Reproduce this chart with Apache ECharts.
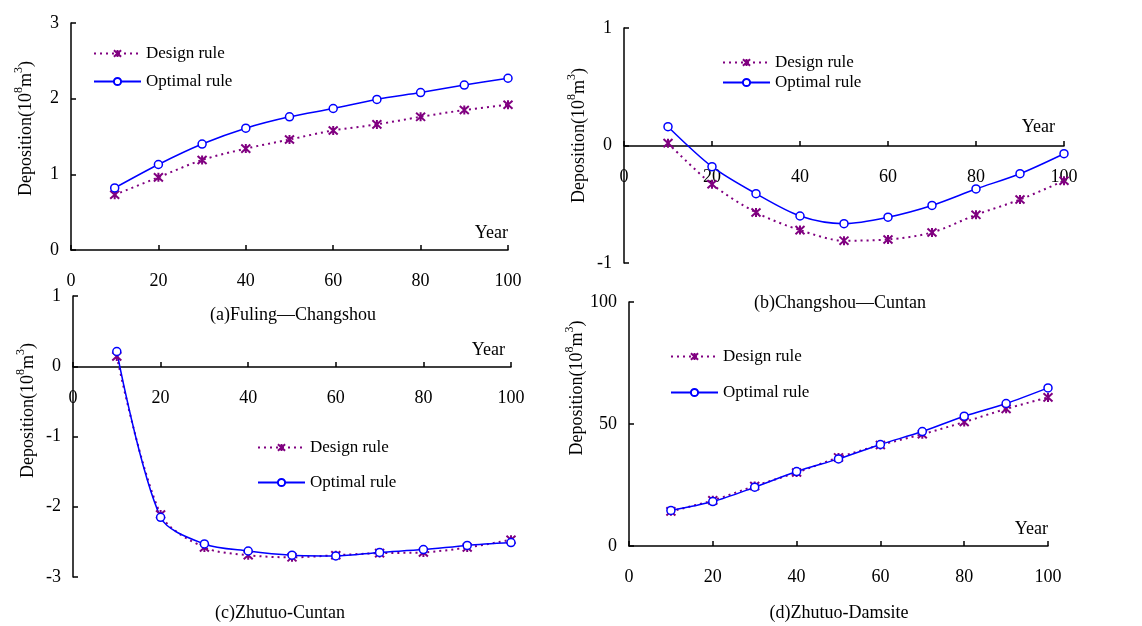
<!DOCTYPE html>
<html>
<head>
<meta charset="utf-8">
<script src="https://cdn.jsdelivr.net/npm/echarts@6/dist/echarts.min.js"></script>
<style>
  html, body { margin: 0; padding: 0; background: #fff; }
  #main { width: 1142px; height: 626px; }
</style>
</head>
<body>
<div id="main"></div>
<script>
// years on the x axis
var years = [10, 20, 30, 40, 50, 60, 70, 80, 90, 100];

// (a) Fuling—Changshou
var designA = [0.73, 0.96, 1.19, 1.34, 1.46, 1.58, 1.66, 1.76, 1.85, 1.92];
var optimalA = [0.82, 1.13, 1.40, 1.61, 1.76, 1.87, 1.99, 2.08, 2.18, 2.27];
// (b) Changshou—Cuntan
var designB = [0.02, -0.33, -0.57, -0.72, -0.81, -0.80, -0.74, -0.59, -0.46, -0.30];
var optimalB = [0.16, -0.18, -0.41, -0.60, -0.665, -0.61, -0.51, -0.37, -0.24, -0.07];
// (c) Zhutuo-Cuntan
var designC = [0.14, -2.11, -2.58, -2.69, -2.72, -2.69, -2.66, -2.65, -2.58, -2.47];
var optimalC = [0.21, -2.15, -2.53, -2.63, -2.69, -2.70, -2.65, -2.61, -2.55, -2.51];
// (d) Zhutuo-Damsite
var designD = [14.2, 18.7, 24.6, 30.1, 36.3, 41.4, 45.8, 50.8, 56.2, 60.9];
var optimalD = [14.6, 18.2, 24.1, 30.5, 35.7, 41.6, 46.9, 53.2, 58.4, 64.8];

var titles = ['(a)Fuling\u2014Changshou', '(b)Changshou\u2014Cuntan', '(c)Zhutuo-Cuntan', '(d)Zhutuo-Damsite'];

var FONT = 'Liberation Serif';
var PURPLE = '#800080';
var BLUE = '#0000ff';
var star = 'path://M0,-5L0,5M-4.5,-4.5L4.5,4.5M-4.5,4.5L4.5,-4.5';

function pairs(ys) {
  return years.map(function (x, i) { return [x, ys[i]]; });
}

var grids = [
  { left: 71, top: 23, width: 437, height: 227 },
  { left: 624, top: 28, width: 440, height: 235 },
  { left: 73, top: 296, width: 438, height: 281 },
  { left: 629, top: 302, width: 419, height: 244 }
];
var yRanges = [[0, 3, 1], [-1, 1, 1], [-3, 1, 1], [0, 100, 50]];
// x axis crosses at y = 0, lifted from the grid bottom
var xOffset = [0, -117, -210, 0];
var yearPad = [[0, 0, 8, 0], [0, 9, 10, 0], [0, 6, 8, 0], [0, 0, 8, 0]];
var namePad = [16, 20, 52, 72];
var designs = [designA, designB, designC, designD];
var optimals = [optimalA, optimalB, optimalC, optimalD];

var axisTick = { inside: true, length: 5, lineStyle: { color: '#000', width: 1.5 } };

var xAxes = [], yAxes = [], series = [];
grids.forEach(function (g, i) {
  xAxes.push({
    type: 'value', gridIndex: i, min: 0, max: 100, interval: 20,
    offset: xOffset[i],
    name: 'Year', nameLocation: 'end', nameGap: 0,
    nameTextStyle: { fontFamily: FONT, fontSize: 18, color: '#000', align: 'right', verticalAlign: 'bottom', padding: yearPad[i] },
    axisLine: { onZero: false, lineStyle: { color: '#000', width: 1.5 } },
    axisTick: axisTick, splitLine: { show: false },
    axisLabel: { fontFamily: FONT, fontSize: 18, color: '#000', margin: 22 }
  });
  yAxes.push({
    type: 'value', gridIndex: i, min: yRanges[i][0], max: yRanges[i][1], interval: yRanges[i][2],
    name: '{n|Deposition(10}{s|8}{n|m}{s|3}{n|)}', nameLocation: 'middle', nameRotate: 90, nameGap: 36,
    nameTextStyle: {
      padding: [0, 0, 0, namePad[i]],
      rich: {
        n: { fontFamily: FONT, fontSize: 18, color: '#000', lineHeight: 22, verticalAlign: 'bottom' },
        s: { fontFamily: FONT, fontSize: 12, color: '#000', lineHeight: 22, verticalAlign: 'top' }
      }
    },
    axisLine: { onZero: false, lineStyle: { color: '#000', width: 1.5 } },
    axisTick: axisTick, splitLine: { show: false },
    axisLabel: { fontFamily: FONT, fontSize: 18, color: '#000', margin: 12 }
  });
  series.push({
    name: 'Design rule', type: 'line', xAxisIndex: i, yAxisIndex: i,
    data: pairs(designs[i]), smooth: 0.3,
    symbol: star, symbolSize: 9,
    lineStyle: { color: PURPLE, width: 2, type: [2, 4] },
    itemStyle: { color: PURPLE, borderColor: PURPLE, borderWidth: 2 }
  });
  series.push({
    name: 'Optimal rule', type: 'line', xAxisIndex: i, yAxisIndex: i,
    data: pairs(optimals[i]), smooth: 0.3,
    symbol: 'circle', symbolSize: 8,
    lineStyle: { color: BLUE, width: 1.5 },
    itemStyle: { color: '#fff', borderColor: BLUE, borderWidth: 1.5 }
  });
});

var legendPos = [[93, 45, 11], [722, 54, 3], [257, 439, 18], [670, 348, 19]];
var legends = legendPos.map(function (p) {
  return {
    orient: 'vertical', left: p[0], top: p[1], itemGap: p[2], padding: 0,
    itemWidth: 47, itemHeight: 9,
    data: ['Design rule', 'Optimal rule'],
    textStyle: { fontFamily: FONT, fontSize: 17, color: '#000' }
  };
});

var titlePos = [[293, 315], [840, 303], [280, 613], [839, 613]];
var graphics = titles.map(function (t, i) {
  return {
    type: 'text', x: titlePos[i][0], y: titlePos[i][1],
    style: { text: t, fontFamily: FONT, fontSize: 18, fill: '#000', align: 'center', verticalAlign: 'middle' }
  };
});

var chart = echarts.init(document.getElementById('main'));
chart.setOption({
  animation: false,
  grid: grids,
  xAxis: xAxes,
  yAxis: yAxes,
  legend: legends,
  graphic: graphics,
  series: series
});
</script>
</body>
</html>
